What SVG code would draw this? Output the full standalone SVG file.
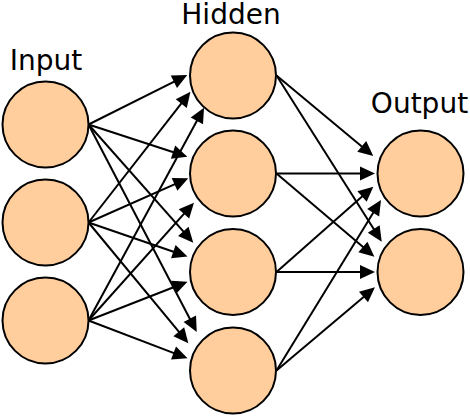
<svg xmlns="http://www.w3.org/2000/svg" width="470" height="416" viewBox="0 0 470 416">
<style>
.n{fill:#ffce9c;stroke:#000;stroke-width:2}
.c line{stroke:#000;stroke-width:2;fill:none;marker-end:url(#ah)}
.t{font-family:"DejaVu Sans","Liberation Sans",sans-serif;font-size:28px;fill:#000;text-anchor:middle}
</style>
<defs>
<marker id="ah" markerUnits="userSpaceOnUse" viewBox="-12 -8 17 16" markerWidth="17" markerHeight="16" refX="0" refY="0" orient="auto">
<path d="M4,0 L-11,-7 L-11,7 Z" fill="#000"/>
</marker>
</defs>
<rect width="470" height="416" fill="#fff"/>
<g id="connectors" class="c">
<line x1="88.5" y1="124.5" x2="183.7" y2="76.8"/>
<line x1="88.5" y1="124.5" x2="183.5" y2="155.5"/>
<line x1="88.5" y1="124.5" x2="190.6" y2="239.7"/>
<line x1="88.5" y1="124.5" x2="194.9" y2="328.5"/>
<line x1="88.5" y1="222.5" x2="188.0" y2="94.9"/>
<line x1="88.5" y1="222.5" x2="184.6" y2="179.9"/>
<line x1="88.5" y1="222.5" x2="183.7" y2="255.2"/>
<line x1="88.5" y1="222.5" x2="185.8" y2="340.2"/>
<line x1="88.5" y1="320.5" x2="202.1" y2="111.2"/>
<line x1="88.5" y1="320.5" x2="191.3" y2="205.7"/>
<line x1="88.5" y1="320.5" x2="183.8" y2="283.2"/>
<line x1="88.5" y1="320.5" x2="183.8" y2="356.9"/>
<line x1="276.5" y1="75.5" x2="370.2" y2="153.4"/>
<line x1="276.5" y1="75.5" x2="379.6" y2="238.3"/>
<line x1="276.5" y1="173.5" x2="371" y2="173.5"/>
<line x1="276.5" y1="173.5" x2="371.3" y2="254.1"/>
<line x1="276.5" y1="272" x2="370.3" y2="189.3"/>
<line x1="276.5" y1="272" x2="371" y2="272"/>
<line x1="276.5" y1="370.5" x2="378.9" y2="203.4"/>
<line x1="276.5" y1="370.5" x2="371.9" y2="289.9"/>
</g>
<g id="input1"><circle class="n" cx="45.5" cy="124.5" r="43"/></g>
<g id="input2"><circle class="n" cx="45.5" cy="222.5" r="43"/></g>
<g id="input3"><circle class="n" cx="45.5" cy="320.5" r="43"/></g>
<g id="hidden1"><circle class="n" cx="233" cy="75.5" r="43"/></g>
<g id="hidden2"><circle class="n" cx="233" cy="173.5" r="43"/></g>
<g id="hidden3"><circle class="n" cx="233" cy="272" r="43"/></g>
<g id="hidden4"><circle class="n" cx="233" cy="370.5" r="43"/></g>
<g id="output1"><circle class="n" cx="420.5" cy="173.5" r="43"/></g>
<g id="output2"><circle class="n" cx="420.5" cy="272" r="43"/></g>
<g id="labels">
<text class="t" x="46" y="70">Input</text>
<text class="t" x="231" y="24">Hidden</text>
<text class="t" x="419.5" y="113">Output</text>
</g>
</svg>
